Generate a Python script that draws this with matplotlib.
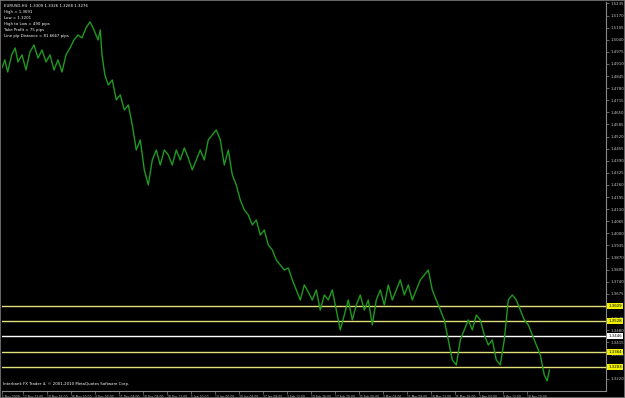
import matplotlib
matplotlib.use('Agg')
import matplotlib.pyplot as plt

# EURUSD H4 close (bar index, price)
bars = [0, 5, 10, 17, 23, 28, 35, 42, 49, 56, 63, 70, 77, 84, 91, 98, 105, 112, 119, 126,
        133, 140, 147, 154, 161, 168, 172, 175, 180, 186,
        193, 200, 207, 214, 221, 228, 235, 242, 249, 256, 263, 270, 277, 284, 291, 298,
        305, 312, 319, 326, 333, 340, 347, 354, 361, 368, 375, 382, 389, 396, 403, 410,
        417, 424, 431, 438, 445, 452, 459, 466, 473, 480, 487, 494, 501, 508, 515, 522,
        529, 536, 543, 550, 557, 564, 571, 578, 585, 592, 599, 606, 613, 620, 627, 634,
        641, 648, 655, 662, 669, 676, 683, 690, 697, 704, 711, 718, 725, 732, 739, 746,
        753, 760, 767, 774, 781, 788, 795, 802, 809, 816, 823, 830, 837, 844, 851, 858,
        865, 872, 879, 886, 893, 900, 907, 914, 921, 928, 935, 942, 949, 954, 958]
prices = [1.4889, 1.4932, 1.4867, 1.4959, 1.4996, 1.4921, 1.4959, 1.4878, 1.4975, 1.5012,
          1.4942, 1.4985, 1.4921, 1.4959, 1.4878, 1.4932, 1.4867, 1.4959, 1.4996, 1.5039,
          1.5066, 1.5050, 1.5104, 1.5136, 1.5093, 1.5039, 1.5093, 1.4959, 1.4851, 1.4797,
          1.4824, 1.4717, 1.4744, 1.4663, 1.4690, 1.4582, 1.4448, 1.4502, 1.4341, 1.4260,
          1.4394, 1.4448, 1.4367, 1.4448, 1.4421, 1.4367, 1.4448, 1.4394, 1.4459, 1.4405,
          1.4341, 1.4394, 1.4448, 1.4394, 1.4502, 1.4529, 1.4556, 1.4502, 1.4367, 1.4448,
          1.4314, 1.4260, 1.4179, 1.4126, 1.4099, 1.4045, 1.4072, 1.3991, 1.4018, 1.3938,
          1.3911, 1.3857, 1.3830, 1.3803, 1.3814, 1.3750, 1.3696, 1.3642, 1.3723, 1.3685,
          1.3642, 1.3696, 1.3588, 1.3669, 1.3642, 1.3696, 1.3588, 1.3481, 1.3561, 1.3642,
          1.3535, 1.3615, 1.3669, 1.3588, 1.3642, 1.3508, 1.3642, 1.3696, 1.3615, 1.3723,
          1.3642, 1.3696, 1.3750, 1.3669, 1.3723, 1.3642, 1.3696, 1.3750, 1.3776, 1.3803,
          1.3696, 1.3642, 1.3588, 1.3535, 1.3427, 1.3320, 1.3293, 1.3427, 1.3481, 1.3535,
          1.3481, 1.3561, 1.3535, 1.3454, 1.3400, 1.3427, 1.3320, 1.3293, 1.3427, 1.3642,
          1.3669, 1.3642, 1.3588, 1.3535, 1.3508, 1.3454, 1.3400, 1.3347, 1.3239, 1.3207,
          1.3266]

levels = [1.3609, 1.3528, 1.3446, 1.3364, 1.3283]
level_colors = ['#e0e07a', '#e0e07a', '#ffffff', '#e0e07a', '#e0e07a']
level_boxes = ['#f0f000', '#f0f000', '#ffffff', '#f0f000', '#f0f000']

# price scale every 65 pips; the ones hidden under a level box are left out
price_ticks = [round(1.5235 - 0.0065 * i, 4) for i in range(32)]
price_ticks = [p for p in price_ticks if min(abs(p - lv) for lv in levels) > 0.0012]
date_ticks = [0] + [37 + 42 * i for i in range(22)]
date_labels = ['5 Nov 2009', '12 Nov 12:00', '19 Nov 16:00', '26 Nov 20:00', '4 Dec 00:00',
               '11 Dec 04:00', '18 Dec 08:00', '28 Dec 12:00', '5 Jan 20:00', '13 Jan 00:00',
               '20 Jan 04:00', '27 Jan 08:00', '3 Feb 12:00', '10 Feb 16:00', '17 Feb 20:00',
               '25 Feb 00:00', '4 Mar 04:00', '11 Mar 08:00', '18 Mar 12:00', '25 Mar 16:00',
               '2 Apr 04:00', '9 Apr 12:00', '18 Apr 20:00']

info = ['EURUSD,H4  1.3309 1.3326 1.3268 1.3276',
        'High = 1.3691',
        'Low = 1.3201',
        'High to Low = 490 pips',
        'Take Profit = 75 pips',
        'Line pip Distance = 81.6667 pips']

fig = plt.figure(figsize=(6.25, 3.98), dpi=100, facecolor='black')
ax = fig.add_axes([2 / 625, 7 / 398, 604 / 625, 389 / 398])
ax.set_facecolor('black')

for lv, c in zip(levels, level_colors):
    ax.axhline(lv, color=c, lw=1.0, zorder=1)
ax.plot(bars, prices, color='#1f9a1f', lw=1.0, zorder=2)

ax.set_xlim(0, 1057)
ax.set_ylim(1.3153, 1.5243)

for s in ['top', 'left']:
    ax.spines[s].set_visible(False)
for s in ['right', 'bottom']:
    ax.spines[s].set_color('#8a8a8a')
    ax.spines[s].set_linewidth(0.8)

ax.yaxis.tick_right()
ax.set_yticks(price_ticks, ['%.4f' % p for p in price_ticks])
ax.set_xticks(date_ticks, date_labels)
ax.tick_params(colors='#8a8a8a', labelcolor='#c8c8c8', length=2, width=0.5, pad=1)
ax.tick_params(axis='y', labelsize=2.8)
ax.tick_params(axis='x', labelsize=2.2)
for lab in ax.get_xticklabels():
    lab.set_ha('left')

for lv, bc in zip(levels, level_boxes):
    ax.text(1.004, lv, '%.4f' % lv, transform=ax.get_yaxis_transform(),
            fontsize=2.8, color='black', va='center', ha='left', zorder=5,
            bbox=dict(boxstyle='square,pad=0.25', fc=bc, ec='none'))

for i, line in enumerate(info):
    fig.text(4 / 625, 1 - (6 + 6 * i) / 398, line, fontsize=2.8, color='white',
             va='center', ha='left')

ax.text(0.002, 0.017, 'Interbank FX Trader 4, \u00a9 2001-2010 MetaQuotes Software Corp.',
        transform=ax.transAxes, fontsize=2.8, color='white', ha='left', va='center')

border = plt.Rectangle((0, 0), 1, 1, transform=fig.transFigure, fill=False,
                       ec='#7a7a7a', lw=1.2)
fig.patches.append(border)

fig.savefig('out.png', dpi=100, facecolor='black')
